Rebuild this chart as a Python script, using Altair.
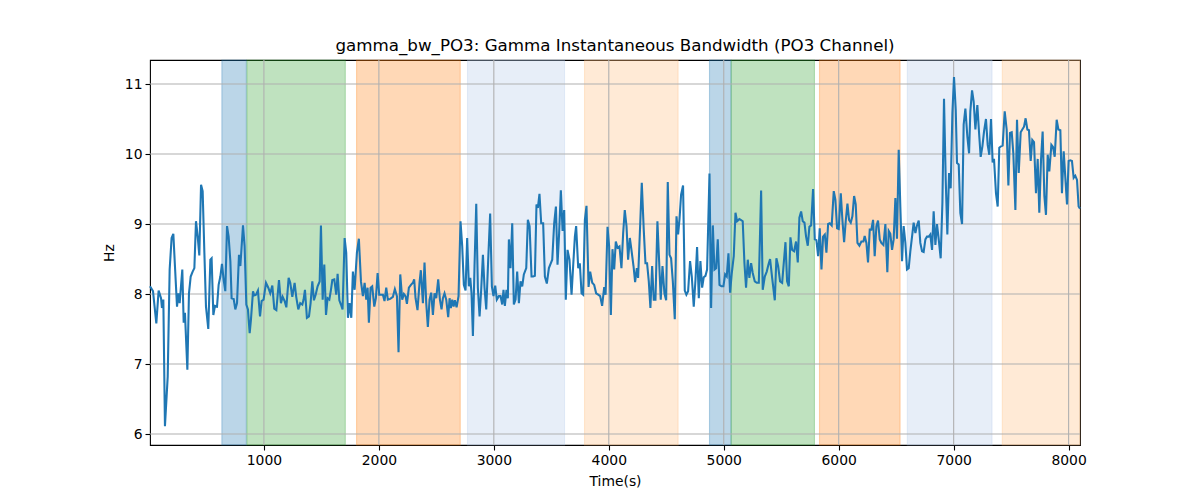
import altair as alt
import pandas as pd

# ---- line series ----
time_s = [
    9, 35, 64, 84, 105, 113, 125, 139, 163, 180,
    197, 212, 226, 244, 255, 267, 290, 302, 313, 334,
    348, 363, 380, 395, 409, 424, 438, 453, 467, 482,
    496, 516, 534, 545, 560, 574, 592, 606, 621, 635,
    650, 664, 679, 693, 708, 719, 737, 751, 766, 783,
    795, 818, 832, 847, 861, 876, 887, 905, 916, 931,
    948, 966, 980, 997, 1018,
    1038, 1055, 1073, 1090, 1108, 1131, 1148, 1163, 1180, 1195,
    1215, 1229, 1247, 1267, 1281, 1299, 1316, 1334, 1345, 1357,
    1374, 1392, 1406, 1421, 1435, 1450, 1467, 1485, 1496, 1511,
    1525, 1540, 1554, 1569, 1583, 1595, 1612, 1629, 1641, 1656,
    1670, 1684, 1702, 1716, 1731, 1745, 1760, 1774, 1789, 1809,
    1826, 1844, 1861, 1876, 1890, 1902, 1913, 1928, 1942, 1960,
    1974, 1989, 2003, 2027,
    2035, 2049, 2064, 2078, 2099, 2122, 2139, 2157, 2171, 2186,
    2203, 2218, 2232, 2244, 2261, 2279, 2296, 2307, 2319, 2336,
    2354, 2365, 2383, 2397, 2412, 2426, 2441, 2455, 2470, 2484,
    2499, 2516, 2531, 2545, 2557, 2571, 2586, 2603, 2615, 2626,
    2638, 2650, 2661, 2676, 2693, 2710, 2725, 2739, 2754, 2768,
    2783, 2795, 2806, 2818, 2832, 2847, 2861, 2876, 2890, 2905,
    2919, 2934, 2951, 2968, 2983, 2997, 3012, 3026, 3044,
    3058, 3073, 3084, 3096, 3110, 3122, 3131, 3145, 3160, 3174,
    3189, 3203, 3218, 3232, 3247, 3261, 3282, 3296, 3311, 3328,
    3342, 3357, 3371, 3383, 3397, 3412, 3429, 3444, 3461, 3479,
    3496, 3508, 3525, 3540, 3554, 3568, 3583, 3598, 3612, 3626,
    3641, 3658, 3676, 3690, 3705, 3716, 3734, 3748, 3763, 3777,
    3792, 3806, 3824, 3838, 3856, 3873, 3890, 3908, 3925, 3942,
    3960, 3972, 3989, 4003, 4018, 4032, 4047, 4061, 4076, 4093,
    4110, 4125, 4139, 4154, 4168, 4183, 4197, 4215, 4229, 4244,
    4255, 4273, 4287, 4304, 4319, 4333, 4348, 4362, 4377, 4391,
    4406, 4423, 4441, 4452, 4467, 4484, 4499, 4513, 4528, 4542,
    4557, 4574, 4589, 4603, 4615, 4629, 4646, 4661, 4675, 4690,
    4707, 4722, 4739, 4754, 4768, 4783, 4797, 4812, 4826, 4841,
    4855, 4876, 4890, 4905, 4919, 4934, 4948, 4963, 4980, 4997,
    5012, 5026, 5041, 5055, 5070, 5087, 5102, 5116, 5136,
    5148, 5165, 5180, 5194, 5209, 5223, 5238, 5252, 5270, 5287,
    5305, 5325, 5339, 5357, 5374, 5389, 5403, 5421, 5444, 5458,
    5473, 5490, 5508, 5522, 5537, 5551, 5566, 5580, 5595, 5612,
    5629, 5644, 5658, 5673, 5687, 5702, 5716, 5731, 5745, 5760,
    5777, 5792, 5806, 5821, 5835, 5850, 5864, 5879, 5893, 5908,
    5922, 5939, 5957, 5971, 5986, 6000, 6018, 6032, 6047, 6061,
    6076, 6090, 6105, 6119, 6134, 6148, 6163, 6180,
    6197, 6215, 6226, 6241, 6255, 6270, 6284, 6299, 6313, 6328,
    6342, 6357, 6371, 6389, 6406, 6423, 6435, 6449, 6464, 6478,
    6493, 6507, 6522, 6536, 6551, 6565, 6580, 6594, 6609, 6623,
    6638, 6652, 6667, 6681, 6696, 6710, 6725, 6739, 6754, 6768,
    6783, 6797, 6812, 6826, 6841, 6855, 6870, 6887, 6902, 6916,
    6931, 6945, 6960, 6974, 6989, 7003, 7018, 7029, 7044, 7058,
    7073, 7087, 7102, 7119, 7134,
    7145, 7160, 7174, 7189, 7206, 7221, 7235, 7250, 7264, 7281,
    7296, 7310, 7325, 7339, 7351, 7368, 7383, 7397, 7412, 7426,
    7444, 7461, 7476, 7490, 7505, 7519, 7537, 7551, 7566, 7583,
    7597, 7612, 7626, 7641, 7655, 7670, 7684, 7699, 7716, 7731,
    7745, 7760, 7774, 7789, 7803, 7818, 7832, 7850, 7864, 7879,
    7896, 7911, 7928, 7942, 7957, 7971, 7986, 8000, 8015, 8029,
    8044, 8058, 8073, 8087, 8099,
]

bw_hz = [
    8.11, 8.04, 7.58, 8.05, 7.94, 7.80, 7.92, 6.11, 6.82, 8.35,
    8.80, 8.86, 8.40, 7.82, 8.01, 7.87, 8.35, 7.59, 7.73, 6.92,
    8.01, 8.25, 8.32, 8.37, 9.04, 8.82, 8.55, 9.56, 9.47, 8.59,
    7.82, 7.50, 8.49, 8.51, 7.70, 7.83, 7.82, 8.13, 8.25, 8.43,
    8.20, 8.04, 8.97, 8.82, 8.47, 7.94, 7.93, 7.78, 7.87, 8.56,
    8.40, 8.98, 8.68, 7.85, 7.78, 7.44, 7.63, 8.04, 7.98, 7.99,
    8.05, 7.68, 7.90, 7.92, 8.16,
    8.09, 8.01, 8.12, 7.79, 7.77, 8.20, 7.87, 7.96, 7.90, 7.81,
    8.23, 8.16, 7.96, 8.16, 7.96, 7.78, 7.87, 7.85, 7.92, 8.06,
    7.66, 7.68, 7.87, 8.18, 7.91, 7.99, 8.11, 8.18, 8.98, 7.92,
    8.42, 7.70, 7.94, 7.92, 8.06, 8.20, 8.21, 7.99, 8.29, 7.91,
    7.85, 7.78, 8.80, 8.59, 7.66, 7.87, 7.66, 8.32, 8.06, 8.59,
    8.79, 8.18, 7.97, 8.16, 7.92, 8.09, 7.59, 8.09, 8.11, 7.82,
    7.94, 8.30, 7.99, 7.99,
    7.99, 7.90, 8.09, 7.92, 7.93, 7.96, 8.07, 7.97, 7.17, 8.28,
    7.92, 8.00, 7.97, 7.86, 8.09, 8.13, 8.16, 8.21, 7.94, 7.77,
    8.17, 8.34, 7.87, 8.45, 7.87, 7.53, 7.92, 8.02, 7.70, 8.01,
    7.94, 8.21, 7.92, 7.78, 7.94, 8.01, 7.92, 7.67, 7.94, 7.80,
    7.92, 7.82, 7.91, 7.81, 7.97, 9.04, 8.68, 8.13, 8.05, 8.80,
    8.11, 8.23, 8.01, 7.40, 8.40, 9.29, 8.09, 7.68, 8.06, 8.56,
    8.09, 7.78, 8.49, 9.15, 8.11, 7.97, 8.12, 7.92, 7.97,
    7.97, 7.85, 8.06, 7.83, 8.06, 7.94, 8.78, 8.37, 9.01, 7.85,
    7.92, 8.32, 7.87, 8.18, 8.11, 8.28, 8.37, 9.06, 8.97, 8.25,
    8.25, 8.26, 9.28, 9.23, 9.43, 9.01, 9.01, 8.25, 8.15, 8.37,
    8.44, 8.49, 9.01, 9.25, 8.42, 8.87, 9.48, 8.90, 9.20, 7.92,
    8.63, 8.49, 7.99, 8.40, 8.82, 8.97, 8.37, 8.44, 8.01, 7.99,
    9.06, 9.26, 8.10, 8.32, 8.16, 8.13, 8.01, 7.99, 7.97, 7.83,
    8.10, 7.99, 8.96, 8.68, 7.70, 8.64, 8.35, 8.75, 8.66, 8.68,
    8.37, 8.87, 9.20, 8.97, 8.49, 8.80, 8.63, 8.40, 8.17, 8.37,
    8.23, 8.99, 9.59, 8.92, 8.44, 8.44, 8.18, 7.80, 8.40, 7.92,
    7.92, 9.04, 8.35, 7.92, 8.40, 8.01, 7.91, 9.60, 8.56, 8.51,
    8.18, 7.64, 9.11, 8.85, 9.07, 9.42, 9.55, 8.05, 7.99, 8.04,
    8.47, 8.25, 7.82, 8.20, 8.67, 7.94, 8.47, 8.09, 8.24, 8.26,
    8.35, 9.72, 7.80, 8.98, 8.35, 8.37, 8.78, 8.13, 8.11, 8.11,
    8.28, 8.25, 8.58, 8.02, 8.30, 8.54, 9.16, 9.04, 9.07,
    9.06, 9.04, 8.44, 8.09, 8.49, 8.23, 8.44, 8.30, 8.18, 8.16,
    8.16, 9.48, 8.06, 8.25, 8.32, 8.42, 8.50, 8.23, 7.91, 8.51,
    8.40, 8.18, 8.16, 8.44, 8.74, 8.18, 8.11, 8.81, 8.63, 8.61,
    8.75, 8.45, 9.09, 9.18, 9.04, 9.02, 8.82, 8.69, 8.96, 8.98,
    9.50, 8.78, 8.77, 8.54, 8.94, 8.35, 8.82, 8.85, 8.59, 9.00,
    9.01, 8.98, 9.47, 9.35, 8.94, 8.93, 9.44, 9.06, 8.74, 9.04,
    9.29, 9.06, 9.02, 9.11, 9.40, 9.28, 8.73, 8.69,
    8.75, 8.75, 8.83, 8.73, 8.45, 8.92, 8.92, 9.06, 8.54, 8.97,
    9.05, 8.78, 8.73, 8.70, 9.00, 8.31, 8.90, 8.86, 8.63, 8.78,
    9.37, 8.79, 10.06, 9.25, 8.47, 8.97, 8.73, 8.35, 8.37, 8.61,
    8.82, 9.02, 8.87, 8.98, 9.05, 8.73, 8.61, 8.60, 8.78, 8.82,
    8.82, 8.85, 8.63, 9.18, 8.70, 9.00, 8.78, 8.51, 9.30, 10.79,
    9.63, 8.85, 9.73, 9.51, 10.59, 11.10, 10.63, 9.87, 9.85, 9.16,
    9.00, 10.42, 10.65, 10.25, 10.01,
    10.61, 10.91, 10.75, 10.35, 10.70, 10.30, 9.96, 10.11, 10.32, 10.50,
    10.13, 9.99, 10.50, 9.88, 9.93, 9.44, 9.25, 10.09, 10.11, 10.12,
    10.61, 10.35, 9.55, 10.30, 10.31, 10.01, 9.20, 10.49, 9.73, 10.31,
    10.35, 10.39, 10.51, 10.35, 10.34, 9.90, 10.20, 10.17, 9.44, 9.93,
    9.16, 9.92, 10.32, 9.40, 9.13, 9.99, 9.75, 10.13, 10.10, 9.96,
    10.49, 10.35, 10.34, 9.44, 10.04, 9.67, 9.28, 9.90, 9.91, 9.90,
    9.66, 9.69, 9.63, 9.25, 9.22,
]

# ---- shaded intervals ----
span_start = [634, 852, 1806, 2771, 3789, 4876, 5064, 5833, 6597, 7423]
span_end = [847, 1708, 2708, 3615, 4603, 5064, 5789, 6534, 7334, 8099]
span_phase = ["p1", "p2", "p3", "p4", "p5", "p1", "p2", "p3", "p4", "p5"]
phase_names = ["p1", "p2", "p3", "p4", "p5"]
phase_colors = ["#1f77b4", "#2ca02c", "#ff7f0e", "#aec7e8", "#ffbb78"]

# ---- axes ----
x_ticks = [1000, 2000, 3000, 4000, 5000, 6000, 7000, 8000]
y_ticks = [6, 7, 8, 9, 10, 11]
x_domain = [9, 8099]
y_domain = [5.843, 11.343]

FONT = "DejaVu Sans"

line_df = pd.DataFrame({"t": time_s, "hz": bw_hz})
span_df = pd.DataFrame({"start": span_start, "end": span_end, "phase": span_phase})
xg_df = pd.DataFrame({"t": x_ticks})
yg_df = pd.DataFrame({"hz": y_ticks})

xs = alt.Scale(domain=x_domain, nice=False, zero=False)
ys = alt.Scale(domain=y_domain, nice=False, zero=False)

x_axis = alt.Axis(
    values=x_ticks, grid=False, domain=False, format="d",
    tickColor="black", tickSize=5, tickWidth=1.1,
    labelColor="black", labelFont=FONT, labelFontSize=13.9, labelPadding=3,
    labelFlush=False, labelOverlap=False,
    title="Time(s)", titleFont=FONT, titleFontSize=13.9, titleFontWeight="normal",
    titleColor="black", titlePadding=8,
)
y_axis = alt.Axis(
    values=y_ticks, grid=False, domain=False, format="d",
    tickColor="black", tickSize=5, tickWidth=1.1,
    labelColor="black", labelFont=FONT, labelFontSize=13.9, labelPadding=3,
    labelFlush=False, labelOverlap=False,
    title="Hz", titleFont=FONT, titleFontSize=13.9, titleFontWeight="normal",
    titleColor="black", titlePadding=8,
)

phase_scale = alt.Scale(domain=phase_names, range=phase_colors)

spans = alt.Chart(span_df).mark_rect(
    fillOpacity=0.3, strokeOpacity=0.3, strokeWidth=1.1
).encode(
    x=alt.X("start:Q", scale=xs, axis=x_axis),
    x2="end:Q",
    fill=alt.Fill("phase:N", scale=phase_scale, legend=None),
    stroke=alt.Stroke("phase:N", scale=phase_scale, legend=None),
)

xgrid = alt.Chart(xg_df).mark_rule(color="#b0b0b0", strokeWidth=1.1).encode(
    x=alt.X("t:Q", scale=xs, axis=x_axis)
)
ygrid = alt.Chart(yg_df).mark_rule(color="#b0b0b0", strokeWidth=1.1).encode(
    y=alt.Y("hz:Q", scale=ys, axis=y_axis)
)

line = alt.Chart(line_df).mark_line(color="#1f77b4", strokeWidth=2.08).encode(
    x=alt.X("t:Q", scale=xs, axis=x_axis),
    y=alt.Y("hz:Q", scale=ys, axis=y_axis),
)

chart = alt.layer(spans, xgrid, ygrid, line).properties(
    width=930,
    height=385,
    title=alt.Title(
        "gamma_bw_PO3: Gamma Instantaneous Bandwidth (PO3 Channel)",
        font=FONT, fontSize=16.7, fontWeight="normal", color="black",
        anchor="middle", frame="group", offset=-8, baseline="alphabetic",
    ),
    padding={"left": 142, "top": 52, "right": 112, "bottom": 47},
    autosize=alt.AutoSizeParams(type="none"),
    background="white",
).configure_view(stroke="black", strokeWidth=1.1)

chart.save("out.html", embed_options={"renderer": "svg", "actions": False})
